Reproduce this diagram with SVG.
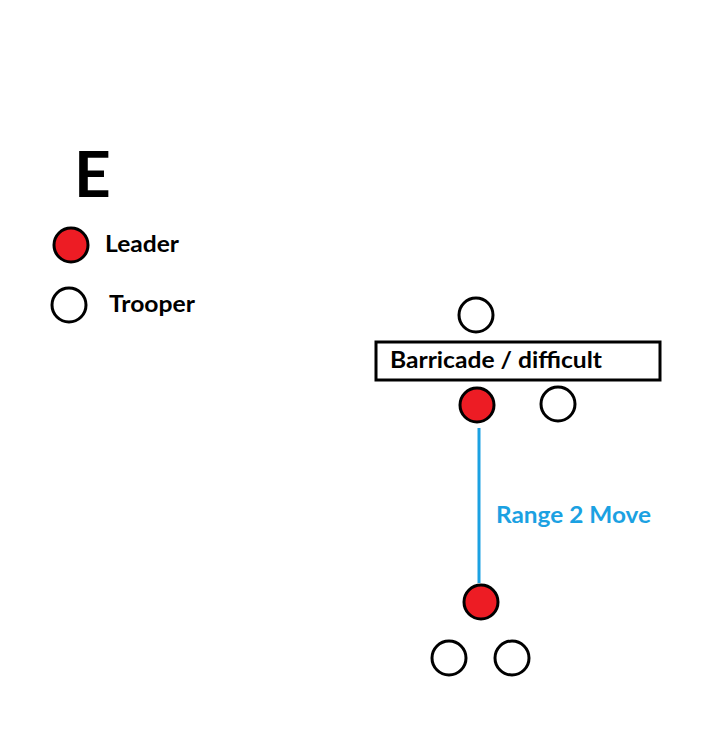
<svg xmlns="http://www.w3.org/2000/svg" width="703" height="750" viewBox="0 0 703 750">
<style>
.leader{fill:#ED1C24;stroke:#000;stroke-width:3}
.trooper{fill:#fff;stroke:#000;stroke-width:3}
.t{font-family:Lato,"Open Sans","Liberation Sans",sans-serif;font-weight:bold;fill:#000}
</style>
<rect width="703" height="750" fill="#fff"/>
<text class="t" x="74" y="197" font-size="64">E</text>
<g id="legend-leader"><circle class="leader" cx="71" cy="245" r="17"/><text class="t" x="105" y="252" font-size="22" textLength="74" lengthAdjust="spacingAndGlyphs">Leader</text></g>
<g id="legend-trooper"><circle class="trooper" cx="69" cy="305" r="17"/><text class="t" x="109" y="312" font-size="22" textLength="86" lengthAdjust="spacingAndGlyphs">Trooper</text></g>
<g id="connectors"><line x1="479" y1="428" x2="479" y2="583" stroke="#1BA1E2" stroke-width="3"/></g>
<g id="barricade"><rect x="376" y="342" width="284" height="38" fill="#fff" stroke="#000" stroke-width="3"/><text class="t" x="390" y="368" font-size="23" textLength="212" lengthAdjust="spacingAndGlyphs">Barricade / difficult</text></g>
<g id="trooper-top"><circle class="trooper" cx="476" cy="315" r="17"/></g>
<g id="leader-start"><circle class="leader" cx="477" cy="405" r="17"/></g>
<g id="trooper-right"><circle class="trooper" cx="558" cy="404" r="17"/></g>
<g id="move-label"><text class="t" x="496" y="523" font-size="23" textLength="155" lengthAdjust="spacingAndGlyphs" style="fill:#1BA1E2">Range 2 Move</text></g>
<g id="leader-end"><circle class="leader" cx="481" cy="602" r="17"/></g>
<g id="trooper-bl"><circle class="trooper" cx="449" cy="658" r="17"/></g>
<g id="trooper-br"><circle class="trooper" cx="512" cy="658" r="17"/></g>
</svg>
